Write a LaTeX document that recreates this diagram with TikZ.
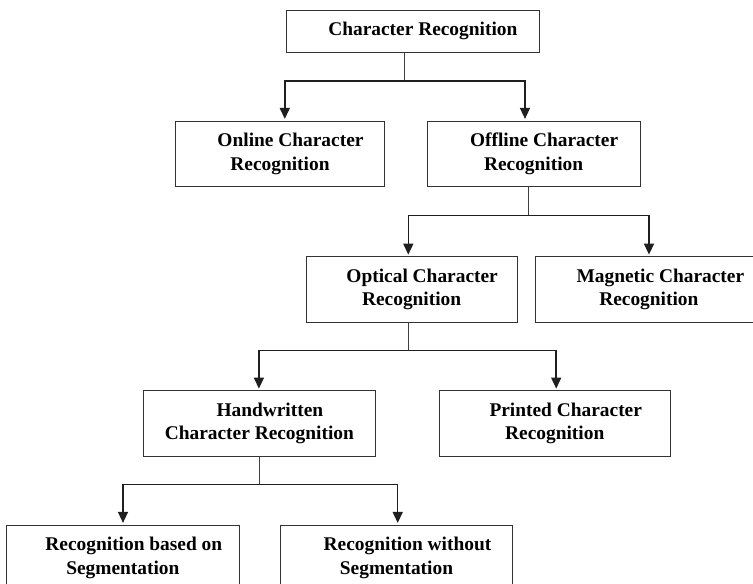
\documentclass[tikz,border=0pt]{standalone}
\usepackage{fontspec}
\setmainfont{Liberation Serif}
\usetikzlibrary{arrows.meta}
\begin{document}
\begin{tikzpicture}[x=1pt,y=-1pt,
  box/.style={draw=black!80, line width=1pt, inner sep=0pt, align=center,
    font=\bfseries\fontsize{19.4}{23.3}\selectfont},
  trunk/.style={draw=black!75, line width=0.9pt},
  arr/.style={draw=black!88, line width=1.5pt, line join=miter,
    -{Triangle[width=10pt,length=11pt]}, shorten >=1.6pt}]
\useasboundingbox (0,0) rectangle (753,584);
\clip (0,0) rectangle (753,584);
\fill[white] (0,0) rectangle (753,584);

\node[box, minimum width=252.3pt, minimum height=41.3pt] (top) at (412.85,31.35)
  {\hspace*{20pt}Character Recognition};
\node[box, minimum width=209.4pt, minimum height=65.7pt] (online) at (280,153.85)
  {\hspace*{21pt}Online Character\\Recognition};
\node[box, minimum width=213.2pt, minimum height=65.7pt] (offline) at (533.6,153.85)
  {\hspace*{21pt}Offline Character\\Recognition};
\node[box, minimum width=211.3pt, minimum height=65.8pt] (optical) at (411.65,289.6)
  {\hspace*{21pt}Optical Character\\Recognition};
\node[box, minimum width=226.3pt, minimum height=66pt] (magnetic) at (648.85,289.7)
  {\hspace*{23pt}Magnetic Character\\Recognition};
\node[box, minimum width=231.5pt, minimum height=65.6pt] (hand) at (259.35,423.5)
  {\hspace*{21pt}Handwritten\\Character Recognition};
\node[box, minimum width=231.5pt, minimum height=65.6pt] (printed) at (554.75,423.5)
  {\hspace*{22pt}Printed Character\\Recognition};
\node[box, minimum width=232.3pt, minimum height=66pt] (rbs) at (122.85,558)
  {\hspace*{22pt}Recognition based on\\Segmentation};
\node[box, minimum width=232pt, minimum height=66pt] (rws) at (396.5,558)
  {\hspace*{22pt}Recognition without\\Segmentation};

% level 1
\coordinate (j1) at (404.3,81);
\coordinate (j1a) at (284.8,81);
\coordinate (j1b) at (525,81);
\draw[trunk] (top.south -| j1) -- (j1);
\draw[arr] (j1) -- (j1a) -- (j1a |- online.north);
\draw[arr] (j1) -- (j1b) -- (j1b |- offline.north);

% level 2
\coordinate (j2) at (528.3,215.7);
\coordinate (j2a) at (408.3,215.7);
\coordinate (j2b) at (649,215.7);
\draw[trunk] (offline.south -| j2) -- (j2);
\draw[arr] (j2) -- (j2a) -- (j2a |- optical.north);
\draw[arr] (j2) -- (j2b) -- (j2b |- magnetic.north);

% level 3
\coordinate (j3) at (408.3,350.3);
\coordinate (j3a) at (258.9,350.3);
\coordinate (j3b) at (556.2,350.3);
\draw[trunk] (optical.south -| j3) -- (j3);
\draw[arr] (j3) -- (j3a) -- (j3a |- hand.north);
\draw[arr] (j3) -- (j3b) -- (j3b |- printed.north);

% level 4
\coordinate (j4) at (259.4,484.7);
\coordinate (j4a) at (123,484.7);
\coordinate (j4b) at (397.7,484.7);
\draw[trunk] (hand.south -| j4) -- (j4);
\draw[arr] (j4) -- (j4a) -- (j4a |- rbs.north);
\draw[arr] (j4) -- (j4b) -- (j4b |- rws.north);
\end{tikzpicture}
\end{document}
